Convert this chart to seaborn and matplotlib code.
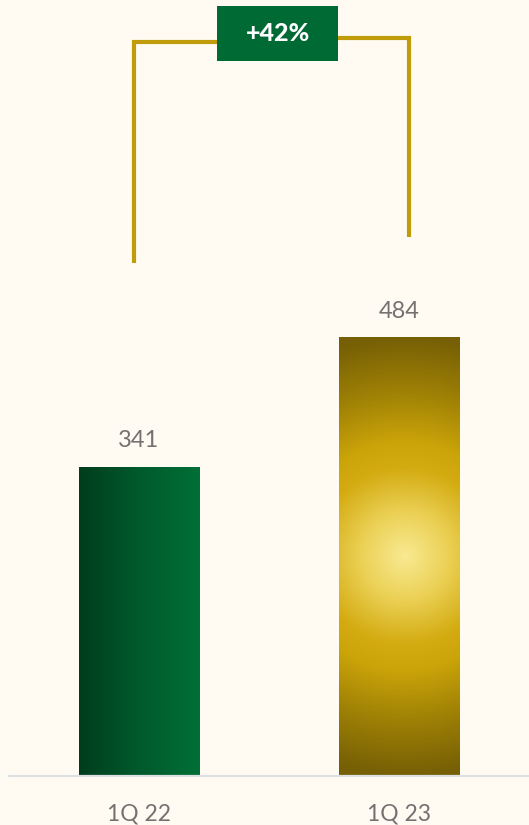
import numpy as np
import pandas as pd
import matplotlib
matplotlib.use("Agg")
import matplotlib.pyplot as plt
from matplotlib.colors import LinearSegmentedColormap
from matplotlib.patches import Rectangle
import seaborn as sns

# ---- data ----
categories = ["1Q 22", "1Q 23"]
values = [341, 484]
growth_label = "+42%"

# ---- style ----
BG = "#FFFBF3"
TXT = "#767171"
LINE_GOLD = "#C09B0A"
BOX_GREEN = "#006A35"

sns.set_theme(style="white")
plt.rcParams["font.family"] = ["Lato", "DejaVu Sans"]

fig = plt.figure(figsize=(5.29, 8.25), dpi=100, facecolor=BG)
ax = fig.add_axes([9 / 529, 49 / 825, 520 / 529, 776 / 825])
ax.set_facecolor(BG)

df = pd.DataFrame({"cat": categories, "val": values})
sns.barplot(data=df, x="cat", y="val", ax=ax, width=0.465, color="#006A35",
            saturation=1, errorbar=None)
ax.set_xlim(-0.5, 1.5)
ax.set_ylim(0, 776 / 0.9065)

green_cmap = LinearSegmentedColormap.from_list("g", ["#003D1D", "#005A2C", "#006F36"])
gold_cmap = LinearSegmentedColormap.from_list(
    "y",
    [(0.0, "#F9EA92"), (0.2, "#EBD055"), (0.4, "#D4AC12"), (0.52, "#CBA40A"),
     (0.74, "#A08205"), (1.0, "#765F05")])

fig.canvas.draw()
patches = list(ax.patches)
for i, p in enumerate(patches):
    x0, w, h = p.get_x(), p.get_width(), p.get_height()
    (px0, py0), (px1, py1) = ax.transData.transform([(x0, 0), (x0 + w, h)])
    wp, hp = int(round(px1 - px0)), int(round(py1 - py0))
    if i == 0:
        grad = np.tile(np.linspace(0, 1, wp), (hp, 1))
        cmap = green_cmap
    else:
        yy, xx = np.mgrid[0:hp, 0:wp]
        cx, cy = wp * 0.54, hp * 0.5
        r = np.sqrt((xx - cx) ** 2 + (yy - cy) ** 2) / (hp * 0.5)
        grad = np.clip(r, 0, 1)
        cmap = gold_cmap
    im = ax.imshow(grad, cmap=cmap, vmin=0, vmax=1, extent=(x0, x0 + w, 0, h),
                   aspect="auto", origin="lower", zorder=p.get_zorder() + 0.1,
                   interpolation="bilinear")
    im.set_clip_path(p)
    ax.text(x0 + w / 2, h + 26 / 0.9065, f"{values[i]}", ha="center", va="center",
            color=TXT, fontsize=17, zorder=5)

for s in ["top", "right", "left"]:
    ax.spines[s].set_visible(False)
ax.spines["bottom"].set_color("#DDE0E3")
ax.spines["bottom"].set_linewidth(1.6)
ax.set_yticks([])
ax.set_xlabel("")
ax.set_ylabel("")
ax.tick_params(axis="x", length=0, pad=20, labelsize=16.5, labelcolor=TXT)

# ---- growth bracket ----
def py(pix_from_top):
    return (776 - pix_from_top) / 0.9065

def px(pix_x):
    return (pix_x - 139.5) / 260.5

lw = 3.0
ax.plot([px(134), px(134), px(220)], [py(263), py(42), py(42)], color=LINE_GOLD,
        lw=lw, solid_capstyle="butt", solid_joinstyle="miter", clip_on=False, zorder=3)
ax.plot([px(336), px(410), px(410)], [py(38), py(38), py(237)], color=LINE_GOLD,
        lw=lw, solid_capstyle="butt", solid_joinstyle="miter", clip_on=False, zorder=3)
ax.add_patch(Rectangle((px(218), py(61)), px(339) - px(218), py(6) - py(61),
                       facecolor=BOX_GREEN, edgecolor="none", zorder=5, clip_on=False))
ax.text(px(278.5), py(33.5), growth_label, ha="center", va="center", color="white",
        fontsize=18, fontweight="black", zorder=6, clip_on=False)

fig.savefig("out.png", dpi=100, facecolor=BG)
